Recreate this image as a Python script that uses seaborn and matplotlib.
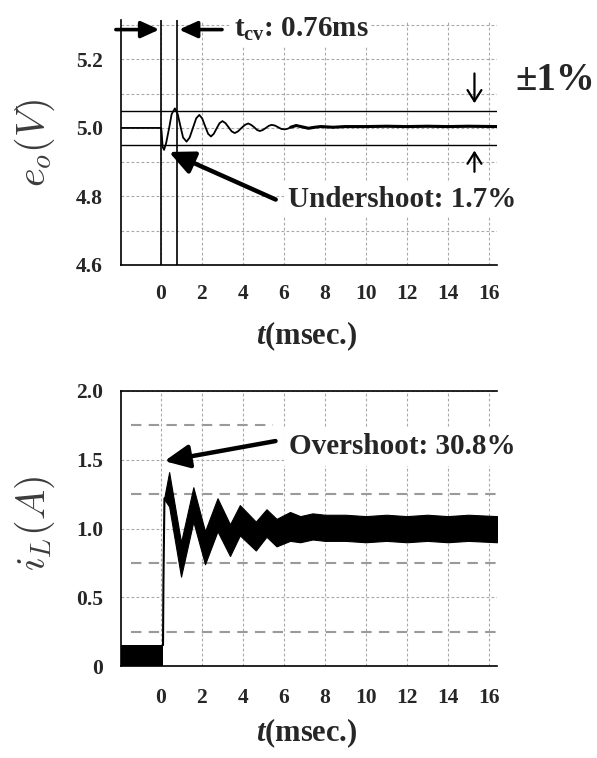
import numpy as np
import pandas as pd
import matplotlib
matplotlib.use("Agg")
import matplotlib.pyplot as plt
import seaborn as sns

# ---------------------------------------------------------------------------
# Output voltage e_o(V) around the load step at t = 0 (time in ms)
vo_t = [-1.95, 0.00, 0.03, 0.08, 0.15, 0.25, 0.40, 0.52, 0.68, 0.82, 0.95,
        1.08, 1.25, 1.40, 1.56, 1.72, 1.87, 2.01, 2.15, 2.30, 2.44, 2.58,
        2.72, 2.86, 3.00, 3.15, 3.30, 3.45, 3.60, 3.76, 3.93, 4.10, 4.26,
        4.40, 4.55, 4.69, 4.83, 4.97, 5.12, 5.26, 5.40, 5.56, 5.72, 5.88,
        6.05, 6.20, 6.33, 6.60, 6.90, 7.20, 7.50, 7.80, 8.40, 9.00, 10.0,
        11.0, 12.0, 13.0, 14.0, 15.0, 16.4]
vo_v = [5.000, 5.000, 4.990, 4.945, 4.936, 4.955, 5.000, 5.040, 5.057, 5.040,
        5.005, 4.972, 4.960, 4.972, 5.000, 5.028, 5.038, 5.028, 5.006, 4.983,
        4.975, 4.983, 4.999, 5.014, 5.020, 5.014, 5.002, 4.990, 4.985, 4.990,
        5.000, 5.009, 5.013, 5.009, 5.002, 4.994, 4.991, 4.994, 5.000, 5.006,
        5.009, 5.007, 5.002, 4.997, 4.996, 4.998, 5.002, 5.007, 5.003, 4.999,
        5.002, 5.004, 5.002, 5.004, 5.004, 5.005, 5.004, 5.005, 5.004, 5.005,
        5.004]

# settling band (+/-1 %) and settling time
v_band = [4.95, 5.05]
t_cv = 0.76

# ---------------------------------------------------------------------------
# Inductor current i_L(A): ripple envelope after the step
il_t = [0.17, 0.40, 0.98, 1.58, 2.15, 2.76, 3.37, 3.85, 4.63, 5.15, 5.64,
        6.30, 6.80, 7.40, 8.00, 9.00, 10.0, 11.0, 12.0, 13.0, 14.0, 15.0, 16.4]
il_upper = [1.23, 1.41, 0.90, 1.30, 0.98, 1.22, 1.03, 1.17, 1.05, 1.14, 1.07,
            1.12, 1.09, 1.11, 1.10, 1.10, 1.09, 1.10, 1.09, 1.10, 1.09, 1.10, 1.09]
il_lower = [1.21, 1.16, 0.65, 1.05, 0.74, 0.98, 0.80, 0.95, 0.84, 0.94, 0.87,
            0.91, 0.90, 0.92, 0.91, 0.91, 0.90, 0.91, 0.90, 0.91, 0.90, 0.91, 0.90]
# current before the step (ripple between 0 and 0.152 A) and the rising edge
pre_t = [-1.95, 0.10]
pre_top = 0.152
rise_t = [0.10, 0.12, 0.17]
rise_i = [0.152, 0.60, 1.22]
# +/-25 % reference levels
il_ref = [0.25, 0.75, 1.25, 1.75]

x_ticks = [0, 2, 4, 6, 8, 10, 12, 14, 16]
vo_ticks = [4.6, 4.8, 5.0, 5.2]
vo_minor = [4.7, 4.9, 5.1, 5.3]
il_ticks = [0, 0.5, 1.0, 1.5, 2.0]
il_ticklabels = ["0", "0.5", "1.0", "1.5", "2.0"]

# ---------------------------------------------------------------------------
sns.set_style("white")
plt.rcParams["font.family"] = ["Liberation Serif", "DejaVu Serif"]
plt.rcParams["font.weight"] = "bold"
plt.rcParams["mathtext.fontset"] = "custom"
plt.rcParams["mathtext.rm"] = "Liberation Serif:bold"
plt.rcParams["mathtext.bf"] = "Liberation Serif:bold"
plt.rcParams["mathtext.it"] = "Liberation Serif:italic:bold"

W, H = 597, 758
fig = plt.figure(figsize=(W / 100, H / 100), dpi=100)


def px_axes(x0, y0, x1, y1):
    return fig.add_axes([x0 / W, 1 - y1 / H, (x1 - x0) / W, (y1 - y0) / H])


ax1 = px_axes(121, 20, 497, 265)
ax2 = px_axes(121, 391, 497, 666)

grid_kw = dict(color="#a8a8a8", lw=0.8, ls=(0, (2.5, 2)))
XL = (-1.95, 16.4)
TICK_FS = 15.5
NOTE_FS = 21

# ---------------- top panel: output voltage ----------------
df_v = pd.DataFrame({"t": vo_t, "v": vo_v})
ax1.set_xlim(*XL)
ax1.set_ylim(4.6, 5.315)
ax1.set_xticks(x_ticks)
ax1.set_yticks(vo_ticks)
ax1.set_yticks(vo_minor, minor=True)
ax1.set_yticklabels([f"{v:.1f}" for v in vo_ticks])
ax1.grid(True, which="both", **grid_kw)
ax1.set_axisbelow(True)
for v in v_band:
    ax1.axhline(v, color="black", lw=1.0, zorder=2)
for t in (0.0, t_cv):
    ax1.axvline(t, color="black", lw=1.2, zorder=2)
sns.lineplot(data=df_v, x="t", y="v", ax=ax1, color="black", lw=1.3,
             estimator=None, sort=False, zorder=3)
# switching noise thickens the trace once it has settled
sns.lineplot(data=df_v[df_v["t"] >= 6.3], x="t", y="v", ax=ax1,
             color="black", lw=2.2, estimator=None, sort=False, zorder=3)
ax1.set_xlabel("")
ax1.set_ylabel("")

# t_cv double arrow
arr_big = dict(arrowstyle="-|>,head_length=0.55,head_width=0.25", lw=2.6,
               color="black", shrinkA=0, shrinkB=0, mutation_scale=20)
ax1.annotate("", xy=(-0.08, 5.287), xytext=(-2.2, 5.287),
             arrowprops=arr_big, annotation_clip=False)
ax1.annotate("", xy=(t_cv + 0.12, 5.287), xytext=(2.98, 5.287),
             arrowprops=arr_big, annotation_clip=False)
ax1.text(3.55, 5.287, r"$\mathbf{t}_{\mathbf{cv}}$: 0.76ms", fontsize=NOTE_FS,
         va="center", ha="left",
         bbox=dict(facecolor="white", edgecolor="none", pad=2), zorder=4)

# +/-1 % markers
arr_thin = dict(arrowstyle="->,head_length=0.4,head_width=0.25", lw=1.6,
                color="black", shrinkA=0, shrinkB=0, mutation_scale=20)
ax1.annotate("", xy=(15.3, 5.072), xytext=(15.3, 5.159), arrowprops=arr_thin)
ax1.annotate("", xy=(15.3, 4.934), xytext=(15.3, 4.872), arrowprops=arr_thin)
fig.text(515 / W, 1 - 80 / H, "\u00b11%", fontsize=28, va="center", ha="left")

# undershoot
arr_ann = dict(arrowstyle="-|>,head_length=0.75,head_width=0.35", lw=3.2,
               color="black", shrinkA=0, shrinkB=0, mutation_scale=20)
ax1.annotate("", xy=(0.39, 4.930), xytext=(5.6, 4.791), arrowprops=arr_ann,
             zorder=5)
ax1.text(6.2, 4.791, "Undershoot: 1.7%", fontsize=NOTE_FS, va="center",
         ha="left", bbox=dict(facecolor="white", edgecolor="none", pad=3),
         zorder=4)

for side in ("top", "right"):
    ax1.spines[side].set_visible(False)
for side in ("left", "bottom"):
    ax1.spines[side].set_color("black")
    ax1.spines[side].set_linewidth(1.2)
ax1.tick_params(axis="both", which="both", length=0, labelsize=TICK_FS)
ax1.tick_params(axis="x", pad=14)
ax1.tick_params(axis="y", pad=13)

# ---------------- bottom panel: inductor current ----------------
df_i = pd.DataFrame({"t": il_t, "up": il_upper, "lo": il_lower})
df_r = pd.DataFrame({"t": rise_t, "i": rise_i})
ax2.set_xlim(*XL)
ax2.set_ylim(0, 2.0)
ax2.set_xticks(x_ticks)
ax2.set_yticks(il_ticks)
ax2.set_yticklabels(il_ticklabels)
ax2.grid(True, which="major", **grid_kw)
ax2.set_axisbelow(True)
for lvl in il_ref:
    x_end = 5.46 if lvl > 1.5 else XL[1]
    ax2.plot([-1.45, x_end], [lvl, lvl], color="#9a9a9a", lw=1.5,
             ls=(0, (5, 3.5)), zorder=1)
ax2.fill_between(pre_t, 0, pre_top, color="black", lw=0, zorder=3)
sns.lineplot(data=df_r, x="t", y="i", ax=ax2, color="black", lw=1.5,
             estimator=None, sort=False, zorder=3)
ax2.fill_between(df_i["t"], df_i["lo"], df_i["up"], color="black", lw=0.8,
                 edgecolor="black", zorder=3)
ax2.set_xlabel("")
ax2.set_ylabel("")

ax2.annotate("", xy=(0.17, 1.49), xytext=(5.59, 1.636), arrowprops=arr_ann,
             zorder=5)
ax2.text(6.27, 1.593, "Overshoot: 30.8%", fontsize=NOTE_FS, va="center",
         ha="left", bbox=dict(facecolor="white", edgecolor="none", pad=4),
         zorder=4)

ax2.spines["right"].set_visible(False)
for side in ("left", "bottom", "top"):
    ax2.spines[side].set_color("black")
    ax2.spines[side].set_linewidth(1.2)
ax2.tick_params(axis="both", which="both", length=0, labelsize=TICK_FS)
ax2.tick_params(axis="x", pad=16)
ax2.tick_params(axis="y", pad=13)

# ---------------- axis titles ----------------
fig.text(307 / W, 1 - 336 / H, r"$t$(msec.)", fontsize=22, ha="center",
         va="center")
fig.text(307 / W, 1 - 733 / H, r"$t$(msec.)", fontsize=22, ha="center",
         va="center")
fig.text(35 / W, 1 - 143 / H, r"$e_o(V)$", fontsize=29, rotation=90,
         ha="center", va="center", color="#3c3c3c", math_fontfamily="cm")
fig.text(35 / W, 1 - 523 / H, r"$i_L(A)$", fontsize=29, rotation=90,
         ha="center", va="center", color="#3c3c3c", math_fontfamily="cm")

fig.savefig("out.png", dpi=100, facecolor="white")
